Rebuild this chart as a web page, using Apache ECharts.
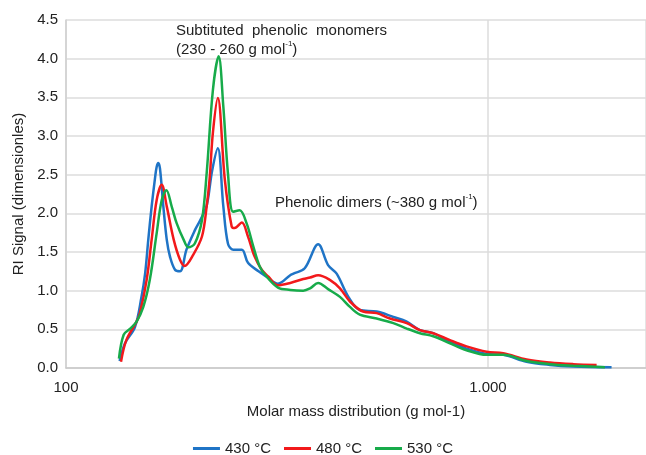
<!DOCTYPE html>
<html>
<head>
<meta charset="utf-8">
<script src="https://cdn.jsdelivr.net/npm/echarts@6/dist/echarts.min.js"></script>
<style>
    html, body { margin: 0; padding: 0; background: #fff; }
    #chartMain { width: 646px; height: 455px; }
</style>
</head>
<body>
<div id="chartMain"></div>
<script>
// molar mass (g/mol) and RI signal
const mass430 = [134, 138, 145.7, 151, 154, 156.7, 159.6, 162.5, 164, 165.5, 167, 170.1, 173.3, 176.4, 181.3, 186.3, 193, 202, 208, 215.5, 222, 229, 236, 242, 249, 261, 270, 286, 299, 318, 340, 346, 368, 396, 418, 438, 467, 497, 545, 597, 642, 690, 742, 813, 890, 993, 1087, 1235, 1403, 1593, 1964];
const signal430 = [0.09, 0.32, 0.53, 0.92, 1.22, 1.66, 2.09, 2.45, 2.6, 2.65, 2.58, 2.09, 1.66, 1.44, 1.27, 1.25, 1.53, 1.78, 1.91, 2.1, 2.55, 2.84, 2.09, 1.61, 1.53, 1.53, 1.36, 1.25, 1.18, 1.09, 1.2, 1.22, 1.29, 1.6, 1.33, 1.22, 0.92, 0.75, 0.73, 0.66, 0.6, 0.49, 0.45, 0.34, 0.25, 0.18, 0.17, 0.08, 0.04, 0.02, 0.01];

const mass480 = [135, 139, 147, 149.7, 155.3, 159.6, 164, 168.6, 173.3, 180, 186.3, 191, 200, 210, 215.5, 219, 223, 229, 238, 247, 251, 261, 270, 280, 291, 302, 318, 340, 365, 379, 396, 422, 446, 471, 506, 545, 586, 642, 690, 742, 813, 890, 993, 1087, 1235, 1403, 1593, 1810];
const signal480 = [0.08, 0.36, 0.6, 0.71, 1.14, 1.66, 2.17, 2.37, 2.09, 1.66, 1.4, 1.32, 1.46, 1.7, 2.09, 2.45, 3.05, 3.49, 2.43, 1.83, 1.81, 1.88, 1.7, 1.44, 1.27, 1.18, 1.07, 1.1, 1.15, 1.17, 1.2, 1.14, 1.03, 0.86, 0.73, 0.71, 0.64, 0.58, 0.49, 0.45, 0.36, 0.28, 0.21, 0.19, 0.11, 0.07, 0.05, 0.04];

const mass530 = [133.5, 137, 142, 147, 152.5, 158, 164, 168.6, 173, 178, 183, 190, 195, 202, 210, 215.5, 223, 230, 236, 242, 249, 258, 268, 278, 288, 299, 318, 340, 365, 379, 396, 418, 446, 471, 497, 545, 597, 642, 690, 742, 813, 890, 993, 1087, 1235, 1403, 1593, 1894];
const signal530 = [0.12, 0.43, 0.51, 0.6, 0.79, 1.14, 1.74, 2.17, 2.3, 2.09, 1.87, 1.66, 1.56, 1.61, 1.91, 2.52, 3.6, 4.03, 3.38, 2.52, 2.02, 2.04, 1.87, 1.57, 1.31, 1.18, 1.04, 1.01, 1.0, 1.03, 1.1, 1.02, 0.92, 0.79, 0.69, 0.64, 0.58, 0.51, 0.45, 0.41, 0.32, 0.23, 0.17, 0.17, 0.09, 0.05, 0.03, 0.01];

const seriesNames = ['430 °C', '480 °C', '530 °C'];
const seriesColors = ['#1f74c6', '#f2191b', '#17ab4a'];
const yTicks = [0, 0.5, 1, 1.5, 2, 2.5, 3, 3.5, 4, 4.5];

const zip = (xs, ys) => xs.map((x, i) => [x, ys[i]]);

const fontFamily = 'Liberation Sans, Arial, sans-serif';

const chartInit = () => {
    var chartDom = document.getElementById('chartMain');
    var myChart = echarts.init(chartDom);
    var option;

    const allData = [zip(mass430, signal430), zip(mass480, signal480), zip(mass530, signal530)];

    const richText = {
        n: { fontSize: 15, fontFamily: fontFamily, fill: '#222', lineHeight: 19 },
        s: { fontSize: 8, fontFamily: fontFamily, fill: '#222', verticalAlign: 'top', lineHeight: 19, padding: [0, 0, 6, 0] }
    };

    option = {
        animation: false,
        textStyle: { fontFamily: fontFamily },
        grid: {
            left: 66,
            right: 0,
            top: 20,
            bottom: 87
        },
        legend: {
            top: 436,
            left: 'center',
            icon: 'rect',
            itemWidth: 27,
            itemHeight: 3,
            itemGap: 13,
            textStyle: { fontSize: 15, color: '#222', fontFamily: fontFamily },
            data: seriesNames
        },
        xAxis: {
            type: 'log',
            logBase: 10,
            min: 100,
            max: 2370,
            name: 'Molar mass distribution (g mol-1)',
            nameLocation: 'middle',
            nameGap: 36,
            nameTextStyle: { fontSize: 15, color: '#222', fontFamily: fontFamily },
            axisLine: { lineStyle: { color: '#c8c8c8', width: 1.5 } },
            axisTick: { show: false },
            axisLabel: {
                fontSize: 15,
                color: '#222',
                margin: 12,
                showMaxLabel: false,
                formatter: function (v) {
                    if (Math.abs(v - 100) < 1) return '100';
                    if (Math.abs(v - 1000) < 1) return '1.000';
                    return '';
                }
            },
            splitLine: { show: true, lineStyle: { color: '#dcdcdc', width: 1.5 } }
        },
        yAxis: {
            type: 'value',
            min: yTicks[0],
            max: yTicks[yTicks.length - 1],
            interval: 0.5,
            name: 'RI Signal (dimensionles)',
            nameLocation: 'middle',
            nameGap: 37,
            nameTextStyle: { fontSize: 15, color: '#222', fontFamily: fontFamily },
            axisLine: { show: true, lineStyle: { color: '#d0d0d0', width: 1.5 } },
            axisTick: { show: false },
            axisLabel: {
                fontSize: 15,
                color: '#222',
                margin: 8,
                formatter: function (v) { return v.toFixed(1); }
            },
            splitLine: { show: true, lineStyle: { color: '#dcdcdc', width: 1.5 } }
        },
        graphic: [
            {
                type: 'text',
                left: 176,
                top: 23,
                style: {
                    text: '{n|Subtituted  phenolic  monomers}\n{n|(230 - 260 g mol}{s|-1}{n|)}',
                    fill: '#222',
                    rich: richText
                }
            },
            {
                type: 'text',
                left: 275,
                top: 193,
                style: {
                    text: '{n|Phenolic dimers (~380 g mol}{s|-1}{n|)}',
                    fill: '#222',
                    rich: richText
                }
            }
        ],
        series: seriesNames.map((name, i) => ({
            name: name,
            type: 'line',
            smooth: 0.35,
            showSymbol: false,
            color: seriesColors[i],
            lineStyle: { width: 2.5, color: seriesColors[i] },
            data: allData[i]
        }))
    };

    option && myChart.setOption(option);
};

chartInit();
</script>
</body>
</html>
